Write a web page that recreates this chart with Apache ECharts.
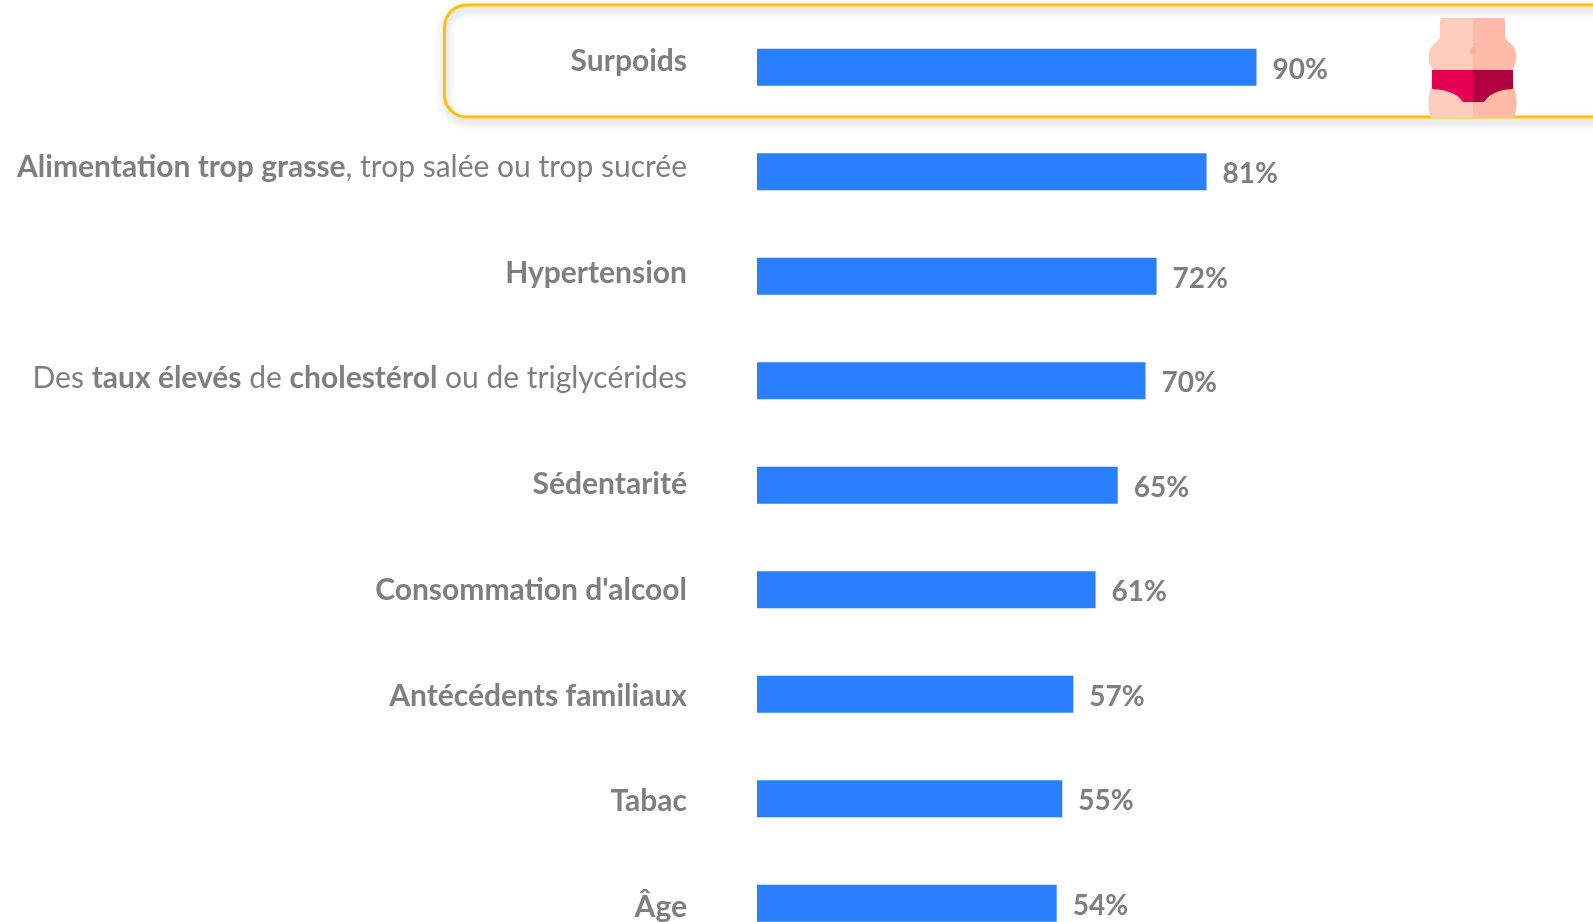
<!DOCTYPE html>
<html>
<head>
<meta charset="utf-8">
<style>
  html, body { margin: 0; padding: 0; background: #fff; }
  #chart { width: 1593px; height: 922px; }
</style>
<script src="https://cdn.jsdelivr.net/npm/echarts@6/dist/echarts.min.js"></script>
</head>
<body>
<div id="chart"></div>
<script>
// {b|...} = gras, {n|...} = normal
const categories = [
  '{b|Surpoids}',
  '{b|Alimentation trop grasse}{n|, trop salée ou trop sucrée}',
  '{b|Hypertension}',
  '{n|Des }{b|taux élevés}{n| de }{b|cholestérol}{n| ou de triglycérides}',
  '{b|Sédentarité}',
  "{b|Consommation d'alcool}",
  '{b|Antécédents familiaux}',
  '{b|Tabac}',
  '{b|Âge}'
]
const values = [90, 81, 72, 70, 65, 61, 57, 55, 54]

const textColor = '#7f7f7f'
const barColor = '#2a7fff'
const font = 'Lato'

// icône ventre : le composant graphic n'a pas de type path, on enregistre les formes
const iconShapes = {
  bellyLeft: 'M1440 20 Q1440 18 1442 18 L1473 18 L1473 118 L1431 118 C1428 110 1427 98 1431 88 L1433 70 C1428 64 1427 52 1432 46 C1435 42 1440 40 1440 36 Z',
  bellyRight: 'M1473 18 L1503 18 Q1505 18 1505 20 L1505 36 C1505 40 1510 42 1513 46 C1518 52 1517 64 1512 70 L1514 88 C1518 98 1517 110 1514 118 L1473 118 Z',
  briefLeft: 'M1432 70 L1473 70 L1473 102 L1463 102 C1458 94 1448 90 1433 89 Q1432 89 1432 88 Z',
  briefRight: 'M1473 70 L1513 70 L1513 88 Q1513 89 1512 89 C1498 90 1489 94 1484 102 L1473 102 Z'
}
Object.keys(iconShapes).forEach(name => {
  echarts.graphic.registerShape(name, echarts.graphic.extendPath(iconShapes[name]))
})

const chart = echarts.init(document.getElementById('chart'), null, { renderer: 'canvas' })

chart.setOption({
  backgroundColor: '#fff',
  animation: false,
  // les libellés n'ont pas tout à fait le même pas que les barres, d'où la 2e grille
  // la dernière bande dépasse du bas de la page, donc outerBoundsMode none
  grid: [
    { left: 757, top: 15, width: 555, height: 940.5, outerBoundsMode: 'none' },
    { left: 757, top: 8.5, width: 555, height: 951.75, outerBoundsMode: 'none' }
  ],
  xAxis: [
    { type: 'value', gridIndex: 0, min: 0, max: 100, show: false },
    { type: 'value', gridIndex: 1, min: 0, max: 100, show: false }
  ],
  yAxis: [
    {
      type: 'category',
      gridIndex: 0,
      inverse: true,
      data: categories,
      axisLine: { show: false },
      axisTick: { show: false },
      axisLabel: { show: false }
    },
    {
      type: 'category',
      gridIndex: 1,
      inverse: true,
      data: categories,
      axisLine: { show: false },
      axisTick: { show: false },
      axisLabel: {
        interval: 0,
        margin: 70,
        rich: {
          b: { fontFamily: font, fontSize: 30, fontWeight: 'bold', color: textColor },
          n: { fontFamily: font, fontSize: 30, fontWeight: 'normal', color: textColor }
        }
      }
    }
  ],
  series: [
    {
      type: 'bar',
      xAxisIndex: 0,
      yAxisIndex: 0,
      data: values,
      barWidth: 37,
      itemStyle: { color: barColor },
      label: {
        show: true,
        position: 'right',
        distance: 16,
        offset: [0, 2.5],
        formatter: '{c}%',
        fontFamily: font,
        fontSize: 28,
        fontWeight: 'bold',
        color: textColor
      }
    }
  ],
  graphic: [
    // cadre jaune autour de Surpoids
    {
      type: 'rect',
      z: 1,
      shape: { x: 444.5, y: 5, width: 1300, height: 112, r: 22 },
      style: {
        fill: 'none',
        stroke: '#ffc000',
        lineWidth: 3,
        shadowBlur: 8,
        shadowColor: 'rgba(0,0,0,0.3)',
        shadowOffsetX: 1,
        shadowOffsetY: 4
      }
    },
    { type: 'bellyLeft', z: 10, style: { fill: '#ffcdbe' } },
    { type: 'bellyRight', z: 10, style: { fill: '#ffbba8' } },
    { type: 'briefLeft', z: 11, style: { fill: '#e50052' } },
    { type: 'briefRight', z: 11, style: { fill: '#b0003f' } },
    {
      type: 'ellipse',
      z: 11,
      shape: { cx: 1473, cy: 51, rx: 3, ry: 4 },
      style: { fill: '#ffb09c' }
    }
  ]
})
</script>
</body>
</html>
